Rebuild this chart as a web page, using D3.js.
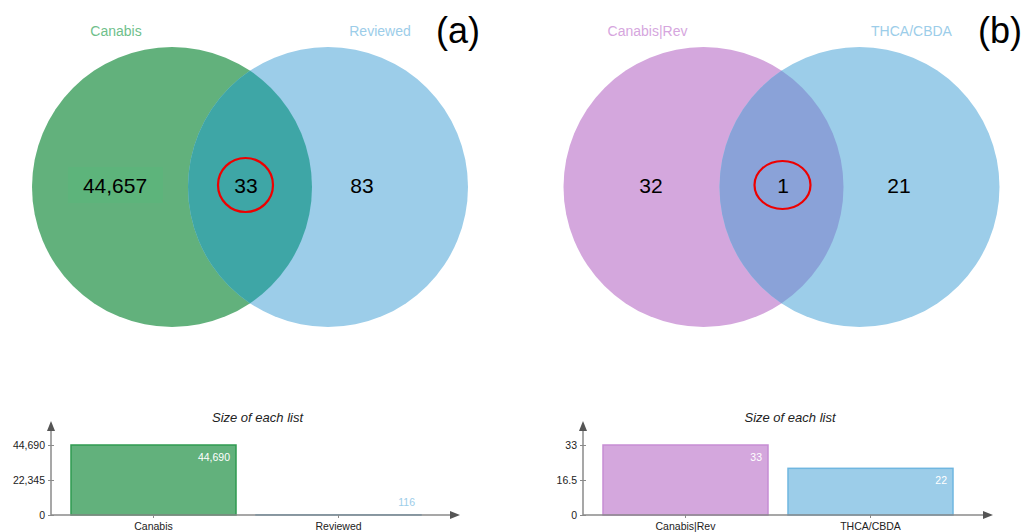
<!DOCTYPE html>
<html>
<head>
<meta charset="utf-8">
<script src="https://cdn.jsdelivr.net/npm/d3@7"></script>
<style>
  html, body { margin: 0; padding: 0; background: #fff; }
  svg { display: block; font-family: "Liberation Sans", Arial, sans-serif; }
</style>
</head>
<body>
<svg id="chart" width="1022" height="532"></svg>
<script>
// ---- data ----
const panelTags = ["(a)", "(b)"];

const setNamesA = ["Canabis", "Reviewed"];
const setSizesA = [44690, 116];
const regionCountsA = [44657, 33, 83];   // only left, both, only right

const setNamesB = ["Canabis|Rev", "THCA/CBDA"];
const setSizesB = [33, 22];
const regionCountsB = [32, 1, 21];

const tickLabelsA = ["0", "22,345", "44,690"];
const tickLabelsB = ["0", "16.5", "33"];

// ---- styles ----
const panels = [
  {
    names: setNamesA, sizes: setSizesA, regions: regionCountsA, ticks: tickLabelsA,
    tag: panelTags[0], tagX: 458,
    fills: ["#62b17c", "#9ccde9"], overlap: "#3ea6a6",
    strokes: ["#2f9a50", "#6fb6e0"], labelColors: ["#6fbf8b", "#9ccde9"],
    valueColors: ["#ffffff", "#9ccde9"],
    venn: { cx: 250, cy: 187, r: 140, d: 78 },
    bar: { left: 51, right: 460, bandL: 61, bandR: 431 },
    ring: { rx: 27.5, ry: 27 },
    shadeFirst: true
  },
  {
    names: setNamesB, sizes: setSizesB, regions: regionCountsB, ticks: tickLabelsB,
    tag: panelTags[1], tagX: 1000,
    fills: ["#d4a7dd", "#9ccde9"], overlap: "#8aa2d8",
    strokes: ["#c68dd3", "#6fb6e0"], labelColors: ["#d6a6de", "#9ccde9"],
    valueColors: ["#ffffff", "#ffffff"],
    venn: { cx: 781.5, cy: 187, r: 140, d: 78 },
    bar: { left: 583, right: 993, bandL: 593, bandR: 963 },
    ring: { rx: 28, ry: 24 },
    shadeFirst: false
  }
];

const svg = d3.select("#chart");
const defs = svg.append("defs");
const fmt = d3.format(",");

panels.forEach((p, i) => {
  const g = svg.append("g");
  const v = p.venn;
  const centers = [v.cx - v.d, v.cx + v.d];

  // two set circles
  g.selectAll("circle.set")
    .data(p.names)
    .join("circle")
    .attr("class", "set")
    .attr("cx", (d, k) => centers[k])
    .attr("cy", v.cy)
    .attr("r", v.r)
    .attr("fill", (d, k) => p.fills[k]);

  // overlap lens: second circle clipped to the first
  const clipId = "clip" + i;
  defs.append("clipPath").attr("id", clipId)
    .append("circle").attr("cx", centers[0]).attr("cy", v.cy).attr("r", v.r);
  g.append("circle")
    .attr("cx", centers[1]).attr("cy", v.cy).attr("r", v.r)
    .attr("fill", p.overlap)
    .attr("clip-path", `url(#${clipId})`);

  // set names above the circles
  g.selectAll("text.setname")
    .data(p.names)
    .join("text")
    .attr("class", "setname")
    .attr("x", (d, k) => centers[k] + (k === 0 ? -56 : 52))
    .attr("y", 36)
    .attr("text-anchor", "middle")
    .attr("font-size", 14)
    .attr("fill", (d, k) => p.labelColors[k])
    .text(d => d);

  // region counts
  const regionX = i === 1
    ? [v.cx - 130.5, v.cx + 1.5, v.cx + 117.5]
    : [centers[0] - 57, v.cx - 4, centers[1] + 34];
  if (p.shadeFirst) {
    g.append("rect")
      .attr("x", regionX[0] - 47).attr("y", 167)
      .attr("width", 95).attr("height", 36)
      .attr("fill", "#5cb57a").attr("opacity", 0.8);
  }
  g.selectAll("text.count")
    .data(p.regions)
    .join("text")
    .attr("class", "count")
    .attr("x", (d, k) => regionX[k])
    .attr("y", 193)
    .attr("text-anchor", "middle")
    .attr("font-size", 21)
    .attr("fill", "#000")
    .text(d => fmt(d));

  // red ring around the shared count
  g.append("ellipse")
    .attr("cx", regionX[1] - 0.5)
    .attr("cy", 185)
    .attr("rx", p.ring.rx).attr("ry", p.ring.ry)
    .attr("fill", "none").attr("stroke", "#ee0000").attr("stroke-width", 2.2);

  // panel tag
  g.append("text")
    .attr("x", p.tagX)
    .attr("y", 43)
    .attr("text-anchor", "middle")
    .attr("font-size", 36)
    .attr("fill", "#000")
    .text(p.tag);

  // ---- bar chart of list sizes ----
  const b = p.bar;
  const base = 515, top = 445;
  const maxV = d3.max(p.sizes);
  const y = d3.scaleLinear().domain([0, maxV]).range([base, top]);
  const x = d3.scaleBand().domain(p.names).range([b.bandL, b.bandR])
    .paddingInner(20 / 185).paddingOuter(10 / 185);

  const bg = svg.append("g");

  bg.append("text")
    .attr("x", (b.left + b.right) / 2 + 2)
    .attr("y", 422)
    .attr("text-anchor", "middle")
    .attr("font-size", 13)
    .attr("font-style", "italic")
    .attr("fill", "#222")
    .text("Size of each list");

  bg.selectAll("rect.bar")
    .data(p.names)
    .join("rect")
    .attr("class", "bar")
    .attr("x", d => x(d))
    .attr("width", x.bandwidth())
    .attr("y", (d, k) => y(p.sizes[k]))
    .attr("height", (d, k) => base - y(p.sizes[k]))
    .attr("fill", (d, k) => p.fills[k])
    .attr("stroke", (d, k) => p.strokes[k])
    .attr("stroke-width", 1.5);

  bg.selectAll("text.val")
    .data(p.names)
    .join("text")
    .attr("class", "val")
    .attr("x", d => x(d) + x.bandwidth() - 6)
    .attr("y", (d, k) => Math.min(y(p.sizes[k]) + 16, base - 9))
    .attr("text-anchor", "end")
    .attr("font-size", 10.5)
    .attr("fill", (d, k) => p.valueColors[k])
    .text((d, k) => fmt(p.sizes[k]));

  // axes
  const axisColor = "#8a8a8a";
  const tickValues = [0, maxV / 2, maxV];
  const yAxis = d3.axisLeft(y).tickValues(tickValues)
    .tickFormat((d, k) => p.ticks[k]).tickSize(3).tickPadding(3);
  const ya = bg.append("g").attr("transform", `translate(${b.left},0)`).call(yAxis);
  ya.select(".domain").remove();
  ya.selectAll(".tick line").attr("stroke", axisColor).attr("x2", 3).attr("x1", -3);
  ya.selectAll(".tick text").attr("font-size", 10.5).attr("fill", "#222")
    .attr("font-family", "Liberation Sans, Arial, sans-serif");

  const xAxis = d3.axisBottom(x).tickSize(3).tickPadding(5);
  const xa = bg.append("g").attr("transform", `translate(0,${base})`).call(xAxis);
  xa.select(".domain").remove();
  xa.selectAll(".tick line").attr("stroke", axisColor);
  xa.selectAll(".tick text").attr("font-size", 10.5).attr("fill", "#222")
    .attr("font-family", "Liberation Sans, Arial, sans-serif");

  bg.append("line")
    .attr("x1", b.left).attr("x2", b.left)
    .attr("y1", base).attr("y2", 430)
    .attr("stroke", axisColor).attr("stroke-width", 1.5);
  bg.append("line")
    .attr("x1", b.left).attr("x2", b.right - 8)
    .attr("y1", base).attr("y2", base)
    .attr("stroke", axisColor).attr("stroke-width", 1.5);
  bg.append("path")
    .attr("d", `M${b.left},421 L${b.left - 4},431 L${b.left + 4},431 Z`)
    .attr("fill", "#555");
  bg.append("path")
    .attr("d", `M${b.right},${base} L${b.right - 10},${base - 4} L${b.right - 10},${base + 4} Z`)
    .attr("fill", "#555");
});
</script>
</body>
</html>
